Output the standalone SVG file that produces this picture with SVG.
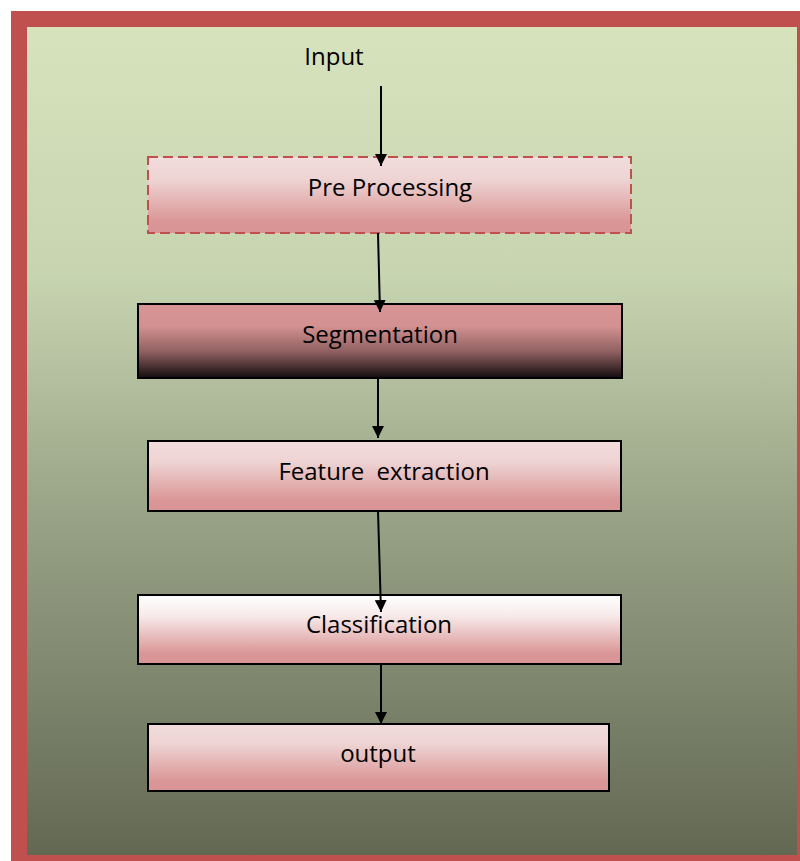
<svg xmlns="http://www.w3.org/2000/svg" width="800" height="861" viewBox="0 0 800 861">
<style>
.t{font-family:"Open Sans","Liberation Sans",sans-serif;font-size:24px;fill:#000;text-anchor:middle;white-space:pre}
.box{stroke:#000;stroke-width:2}
.con{stroke:#000;stroke-width:2;fill:none;marker-end:url(#ah)}
</style>
<defs>
<linearGradient id="bg" x1="0" y1="0" x2="0" y2="1">
<stop offset="0" stop-color="#d7e3bd"/>
<stop offset="0.3" stop-color="#c7d4b0"/>
<stop offset="0.6" stop-color="#97a185"/>
<stop offset="1" stop-color="#636853"/>
</linearGradient>
<linearGradient id="pink" x1="0" y1="0" x2="0" y2="1">
<stop offset="0" stop-color="#f2dcdc"/>
<stop offset="0.3" stop-color="#eed3d3"/>
<stop offset="0.85" stop-color="#da9696"/>
<stop offset="1" stop-color="#d99595"/>
</linearGradient>
<linearGradient id="seg" x1="0" y1="0" x2="0" y2="1">
<stop offset="0" stop-color="#d99595"/>
<stop offset="0.3" stop-color="#d49191"/>
<stop offset="0.65" stop-color="#8e5f60"/>
<stop offset="1" stop-color="#130c0d"/>
</linearGradient>
<linearGradient id="cls" x1="0" y1="0" x2="0" y2="1">
<stop offset="0" stop-color="#ffffff"/>
<stop offset="0.3" stop-color="#f8eaea"/>
<stop offset="0.85" stop-color="#da9696"/>
<stop offset="1" stop-color="#d99595"/>
</linearGradient>
<marker id="ah" markerWidth="12" markerHeight="12" refX="12" refY="6" orient="auto" markerUnits="userSpaceOnUse" viewBox="0 0 12 12">
<path d="M0,0 L12,6 L0,12 Z" fill="#000"/>
</marker>
</defs>
<rect x="11" y="11" width="789" height="850" fill="#c0504d"/>
<rect x="27" y="27" width="770" height="828" fill="url(#bg)"/>
<g id="input"><text class="t" x="334" y="65">Input</text></g>
<g id="preprocessing">
<rect x="148" y="157" width="483" height="76" fill="url(#pink)" stroke="#c0504d" stroke-width="2" stroke-dasharray="10,5"/>
<text class="t" x="390" y="196">Pre Processing</text>
</g>
<g id="segmentation">
<rect class="box" x="138" y="304" width="484" height="74" fill="url(#seg)"/>
<text class="t" x="380" y="343">Segmentation</text>
</g>
<g id="feature">
<rect class="box" x="148" y="441" width="473" height="70" fill="url(#pink)"/>
<text class="t" x="384" y="480">Feature  extraction</text>
</g>
<g id="classification">
<rect class="box" x="138" y="595" width="483" height="69" fill="url(#cls)"/>
<text class="t" x="379" y="633">Classification</text>
</g>
<g id="output">
<rect class="box" x="148" y="724" width="461" height="67" fill="url(#pink)"/>
<text class="t" x="378" y="762">output</text>
</g>
<g id="connectors">
<line class="con" x1="381" y1="86" x2="381" y2="166"/>
<line class="con" x1="378" y1="233" x2="380" y2="312"/>
<line class="con" x1="378" y1="378" x2="378" y2="438"/>
<line class="con" x1="378" y1="511" x2="381" y2="612"/>
<line class="con" x1="381" y1="664" x2="381" y2="724"/>
</g>
</svg>
